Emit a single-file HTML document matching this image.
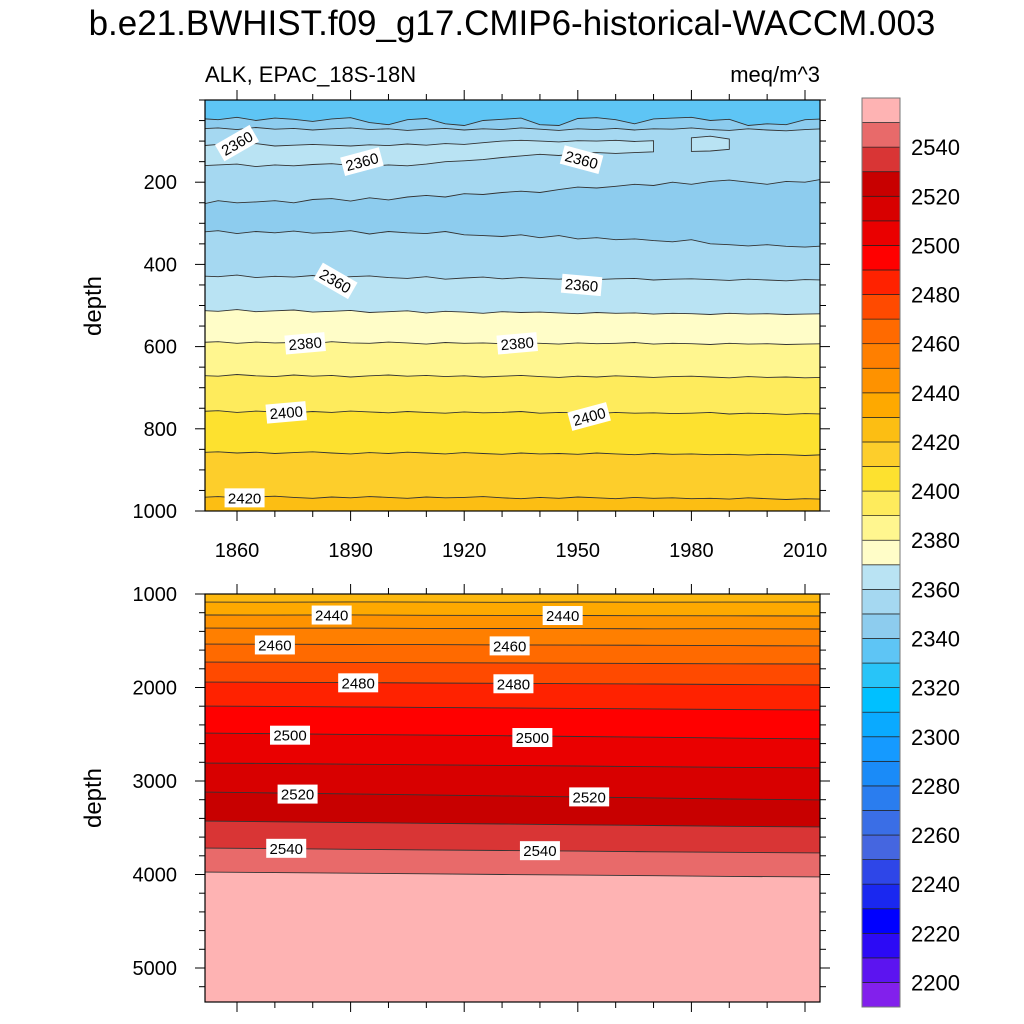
<!DOCTYPE html>
<html><head><meta charset="utf-8">
<style>
html,body{margin:0;padding:0;background:#fff;}
svg{display:block;font-family:"Liberation Sans",Arial,sans-serif;}
</style></head>
<body>
<svg id="chart" width="1024" height="1024" viewBox="0 0 1024 1024" xmlns="http://www.w3.org/2000/svg">
<defs>
<clipPath id="clipTop"><rect x="205" y="100" width="615" height="411"/></clipPath>
<clipPath id="clipBot"><rect x="205" y="594" width="615" height="408"/></clipPath>
</defs>
<text x="512" y="35" font-size="35" text-anchor="middle" fill="#000">b.e21.BWHIST.f09_g17.CMIP6-historical-WACCM.003</text>
<text x="205" y="82" font-size="22" fill="#000">ALK, EPAC_18S-18N</text>
<text x="820" y="82" font-size="22" text-anchor="end" fill="#000">meq/m^3</text>
<text x="101" y="306" font-size="24" text-anchor="middle" transform="rotate(-90 101 306)">depth</text>
<text x="101" y="798" font-size="24" text-anchor="middle" transform="rotate(-90 101 798)">depth</text>
<g id="topPanel"></g>
<g id="botPanel"></g>
<g id="colorbar"></g>
</svg>
<script>
// ---- data ----
const yearsTop = [1850,1855,1860,1865,1870,1875,1880,1885,1890,1895,1900,1905,1910,1915,1920,1925,1930,1935,1940,1945,1950,1955,1960,1965,1970,1975,1980,1985,1990,1995,2000,2005,2010,2015];
const topLevels = [2340,2350,2350,2350,2360,2370,2380,2390,2400,2410,2420];
const topA = [45,48,42,50,44,47,52,46,43,55,60,48,45,58,62,50,47,44,60,62,45,43,48,58,46,44,42,50,47,62,58,60,48,46];
const topB = [70,68,72,67,71,69,73,70,68,72,70,74,71,69,73,70,72,68,71,74,70,72,69,73,70,71,68,72,74,70,73,75,72,70];
const topD = [255,245,250,248,245,250,242,240,246,238,243,236,232,236,228,230,225,222,225,218,212,214,210,205,208,200,205,198,195,200,205,198,200,192];
const topE = [322,318,325,320,323,319,324,322,318,326,320,323,325,320,328,330,332,328,335,330,338,335,340,338,342,345,340,350,352,355,352,356,358,355];
const topF = [428,430,426,432,429,431,427,433,430,428,432,434,430,436,433,431,435,432,434,436,433,437,435,434,438,436,435,437,439,436,438,440,437,438];
const topG = [512,514,510,515,513,511,516,514,512,517,515,513,518,514,516,519,515,517,516,518,520,517,519,518,521,519,520,522,519,521,520,522,521,520];
const topH = [590,588,592,589,591,590,593,588,591,592,589,591,594,590,592,591,593,590,592,594,591,593,592,590,594,592,593,595,592,594,593,595,594,593];
const topI = [670,672,668,671,673,669,672,670,674,671,669,672,670,673,671,674,672,670,673,675,672,674,671,673,675,673,672,674,676,673,675,674,676,675];
const topJ = [758,756,760,757,759,761,758,760,757,759,761,758,760,762,759,761,760,758,762,760,761,763,760,762,761,763,762,760,764,762,763,765,763,764];
const topK = [858,856,859,857,860,858,856,859,861,858,860,857,859,861,858,860,862,859,861,860,862,859,861,863,860,862,861,863,862,864,862,863,865,863];
const topL = [967,965,968,966,964,967,969,966,968,965,967,969,966,968,967,965,968,970,967,969,966,968,970,967,969,968,970,969,971,968,970,972,970,971];
const patchTop = [112,108,110,106,112,110,108,110,112,109,111,107,110,106,108,104,100,98,100,102,99,100,98,101,99,null,92,88,95,null,null,null,null,null];
const patchBot = [160,158,156,162,158,160,157,155,159,161,158,160,156,150,148,145,140,136,132,135,130,128,130,128,126,null,125,124,120,null,null,null,null,null];

const yearsBot = [1850,1870,1890,1910,1930,1950,1970,1990,2015];
const botLevels = [2430,2440,2450,2460,2470,2480,2490,2500,2510,2520,2530,2540,2550];
const bot2430 = [1086,1088,1084,1087,1089,1086,1088,1087,1086];
const bot2440 = [1225,1226,1224,1228,1229,1230,1232,1233,1235];
const bot2450 = [1364,1366,1365,1368,1369,1370,1372,1371,1374];
const bot2460 = [1535,1537,1540,1541,1544,1546,1549,1552,1556];
const bot2470 = [1727,1729,1732,1735,1737,1740,1743,1746,1749];
const bot2480 = [1941,1944,1948,1952,1955,1959,1963,1968,1973];
const bot2490 = [2198,2202,2207,2213,2218,2224,2229,2235,2241];
const bot2500 = [2487,2494,2502,2509,2516,2524,2532,2541,2551];
const bot2510 = [2807,2813,2820,2827,2833,2840,2847,2854,2861];
const bot2520 = [3118,3128,3138,3149,3159,3170,3181,3192,3203];
const bot2530 = [3428,3436,3444,3452,3460,3468,3476,3484,3492];
const bot2540 = [3717,3723,3730,3737,3743,3750,3757,3763,3770];
const bot2550 = [3973,3980,3986,3993,4000,4006,4013,4020,4027];

const cbLevels = [2200,2210,2220,2230,2240,2250,2260,2270,2280,2290,2300,2310,2320,2330,2340,2350,2360,2370,2380,2390,2400,2410,2420,2430,2440,2450,2460,2470,2480,2490,2500,2510,2520,2530,2540,2550];
const cbColors = ["#8220EC","#5C14F0","#2C0AF5","#0000FF","#1A28F0","#2E46E8","#4566E0","#3A6EE6","#2A7DEF","#1A8BF8","#159AFF","#0AAAFF","#00C0FF","#28C4F8","#5EC5F5","#8DCCEE","#A5D8F1","#B9E3F3","#FFFDC8","#FFF68F","#FEEB5C","#FDE12F","#FDCE2B","#FCBE13","#FEA900","#FE9200","#FF7F00","#FF6A00","#FF4A00","#FF2200","#FF0000","#EA0000","#D80000","#C80000","#D93535","#E86A6A","#FEB3B3"];
const cbTickLabels = [2200,2220,2240,2260,2280,2300,2320,2340,2360,2380,2400,2420,2440,2460,2480,2500,2520,2540];
const xTickYears = [1860,1890,1920,1950,1980,2010];
const topDepthTicks = [200,400,600,800,1000];
const botDepthTicks = [1000,2000,3000,4000,5000];
const topLabels = [["2360",1860,105,-30],["2360",1893,150,-15],["2360",1951,145,15],["2360",1886,440,30],["2360",1951,450,5],["2380",1878,592,-5],["2380",1934,592,-5],["2400",1873,760,-5],["2400",1953,770,-15],["2420",1862,968,0]];
const botLabels = [["2440",1885,1225],["2440",1946,1230],["2460",1870,1545],["2460",1932,1555],["2480",1892,1950],["2480",1933,1960],["2500",1874,2510],["2500",1938,2535],["2520",1876,3140],["2520",1953,3170],["2540",1873,3720],["2540",1940,3745]];

// ---- scales ----
const NS="http://www.w3.org/2000/svg";
const xs = yr => 237 + (yr-1860)*3.7867;
const yTop = d => 100 + d*0.411;
const yBot = d => 594 + (d-1000)*0.0935;
function mk(tag, attrs, parent){const e=document.createElementNS(NS,tag);for(const k in attrs)e.setAttribute(k,attrs[k]);parent.appendChild(e);return e;}
function linePts(years, vals, ys){return years.map((y,i)=>xs(y).toFixed(1)+","+ys(vals[i]).toFixed(1));}

function drawPanel(g, clip, years, lines, colors, ys, top, bottom, names){
  const cg = mk('g',{'clip-path':'url(#'+clip+')'},g);
  const bg = mk('rect',{x:205,y:top,width:615,height:bottom-top,fill:colors[0]},cg);
  
  
  lines.forEach((vals,i)=>{
    const pts = linePts(years, vals, ys);
    const x0 = xs(years[0]), x1 = xs(years[years.length-1]);
    const p = mk('polygon',{points: pts.join(' ')+' '+x1+','+(bottom+5)+' '+x0+','+(bottom+5), fill: colors[i+1]},cg);
    
    
  });
  return cg;
}
function strokeLines(cg, years, lines, ys, names){
  lines.forEach((vals,i)=>{
    const l = mk('polyline',{points: linePts(years, vals, ys).join(' '), fill:'none', stroke:'#333', 'stroke-width':0.9},cg);
    
    
  });
}
function label(g, txt, x, y, rot){
  const grp = mk('g',{transform:'translate('+x+','+y+') rotate('+rot+')'},g);
  
  
  mk('rect',{x:-20,y:-9.5,width:40,height:19,fill:'#fff'},grp);
  const t = mk('text',{x:0,y:5.5,'font-size':15,'text-anchor':'middle',fill:'#000'},grp);
  t.textContent = txt;
}
function frame(g, top, bottom, yticksMajor, ys, minorStep, dmin, dmax, showX){
  const r = mk('rect',{x:205,y:top,width:615,height:bottom-top,fill:'none',stroke:'#000','stroke-width':1.2},g);
  
  
  for(let yr=1860; yr<=2010; yr+=10){
    const major = xTickYears.includes(yr);
    const len = major?10:6; const x = xs(yr);
    mk('line',{x1:x,y1:top,x2:x,y2:top-len,stroke:'#000','stroke-width':1},g);
    mk('line',{x1:x,y1:bottom,x2:x,y2:bottom+len,stroke:'#000','stroke-width':1},g);
  }
  if(showX){
    xTickYears.forEach(yr=>{
      const t = mk('text',{x:xs(yr),y:bottom+46,'font-size':20,'text-anchor':'middle'},g);
      
      
      t.textContent = yr;
    });
  }
  for(let d=Math.ceil(dmin/minorStep)*minorStep; d<=dmax; d+=minorStep){
    const major = yticksMajor.includes(d);
    const len = major?10:6; const y = ys(d);
    mk('line',{x1:205,y1:y,x2:205-len,y2:y,stroke:'#000','stroke-width':1},g);
    mk('line',{x1:820,y1:y,x2:820+len,y2:y,stroke:'#000','stroke-width':1},g);
  }
  yticksMajor.forEach(d=>{
    const t = mk('text',{x:177,y:ys(d)+7,'font-size':20,'text-anchor':'end'},g);
    
    
    t.textContent = d;
  });
}

// ---- top panel ----
const gT = document.getElementById('topPanel');
const topLines = [topA,topB,topD,topE,topF,topG,topH,topI,topJ,topK,topL];
const topNames = ['2340','2350a','2350b','2350c','2360','2370','2380','2390','2400','2410','2420'];
const topColors = ["#5EC5F5","#8DCCEE","#A5D8F1","#8DCCEE","#A5D8F1","#B9E3F3","#FFFDC8","#FFF68F","#FEEB5C","#FDE12F","#FDCE2B","#FCBE13"];
const cgT = drawPanel(gT,'clipTop',yearsTop,topLines,topColors,yTop,100,511,topNames);
let seg=[];
function flushPatch(){
  if(seg.length>1){
    const up = seg.map(i=>xs(yearsTop[i]).toFixed(1)+','+yTop(patchTop[i]).toFixed(1));
    const dn = seg.slice().reverse().map(i=>xs(yearsTop[i]).toFixed(1)+','+yTop(patchBot[i]).toFixed(1));
    const p = mk('polygon',{points:up.concat(dn).join(' '),fill:'#B9E3F3',stroke:'#333','stroke-width':0.9},cgT);
    
    
  }
  seg=[];
}
yearsTop.forEach((y,i)=>{ if(patchTop[i]!==null && patchBot[i]!==null) seg.push(i); else flushPatch(); });
flushPatch();
strokeLines(cgT,yearsTop,topLines,yTop,topNames);
topLabels.forEach(l=>label(cgT,l[0],xs(l[1]),yTop(l[2]),l[3]));
frame(gT,100,511,topDepthTicks,yTop,50,0,1000,true);

// ---- bottom panel ----
const gB = document.getElementById('botPanel');
const botLines = [bot2430,bot2440,bot2450,bot2460,bot2470,bot2480,bot2490,bot2500,bot2510,bot2520,bot2530,bot2540,bot2550];
const botNames = botLevels.map(String);
const botColors = ["#FDB80F","#FEA900","#FE9200","#FF7F00","#FF6A00","#FF4A00","#FF2200","#FF0000","#EA0000","#D80000","#C80000","#D93535","#E86A6A","#FEB3B3"];
const cgB = drawPanel(gB,'clipBot',yearsBot,botLines,botColors,yBot,594,1002,botNames);
strokeLines(cgB,yearsBot,botLines,yBot,botNames);
botLabels.forEach(l=>label(cgB,l[0],xs(l[1]),yBot(l[2]),0));
frame(gB,594,1002,botDepthTicks,yBot,200,1000,5364,false);

// ---- colorbar ----
const gC = document.getElementById('colorbar');
const cbTop=98, cbBot=1007, nBox=cbColors.length, bh=(cbBot-cbTop)/nBox;
cbColors.forEach((c,i)=>{
  const y = cbBot-(i+1)*bh;
  const r = mk('rect',{x:862,y:y,width:38,height:bh,fill:c,stroke:'#222','stroke-width':0.7},gC);
  
  
});
mk('rect',{x:862,y:cbTop,width:38,height:cbBot-cbTop,fill:'none',stroke:'#777','stroke-width':1},gC);
cbTickLabels.forEach(v=>{
  const idx = cbLevels.indexOf(v);
  const y = cbBot-(idx+1)*bh;
  const t = mk('text',{x:911,y:y+8,'font-size':22},gC);
  
  
  t.textContent = v;
});
</script>
</body></html>
